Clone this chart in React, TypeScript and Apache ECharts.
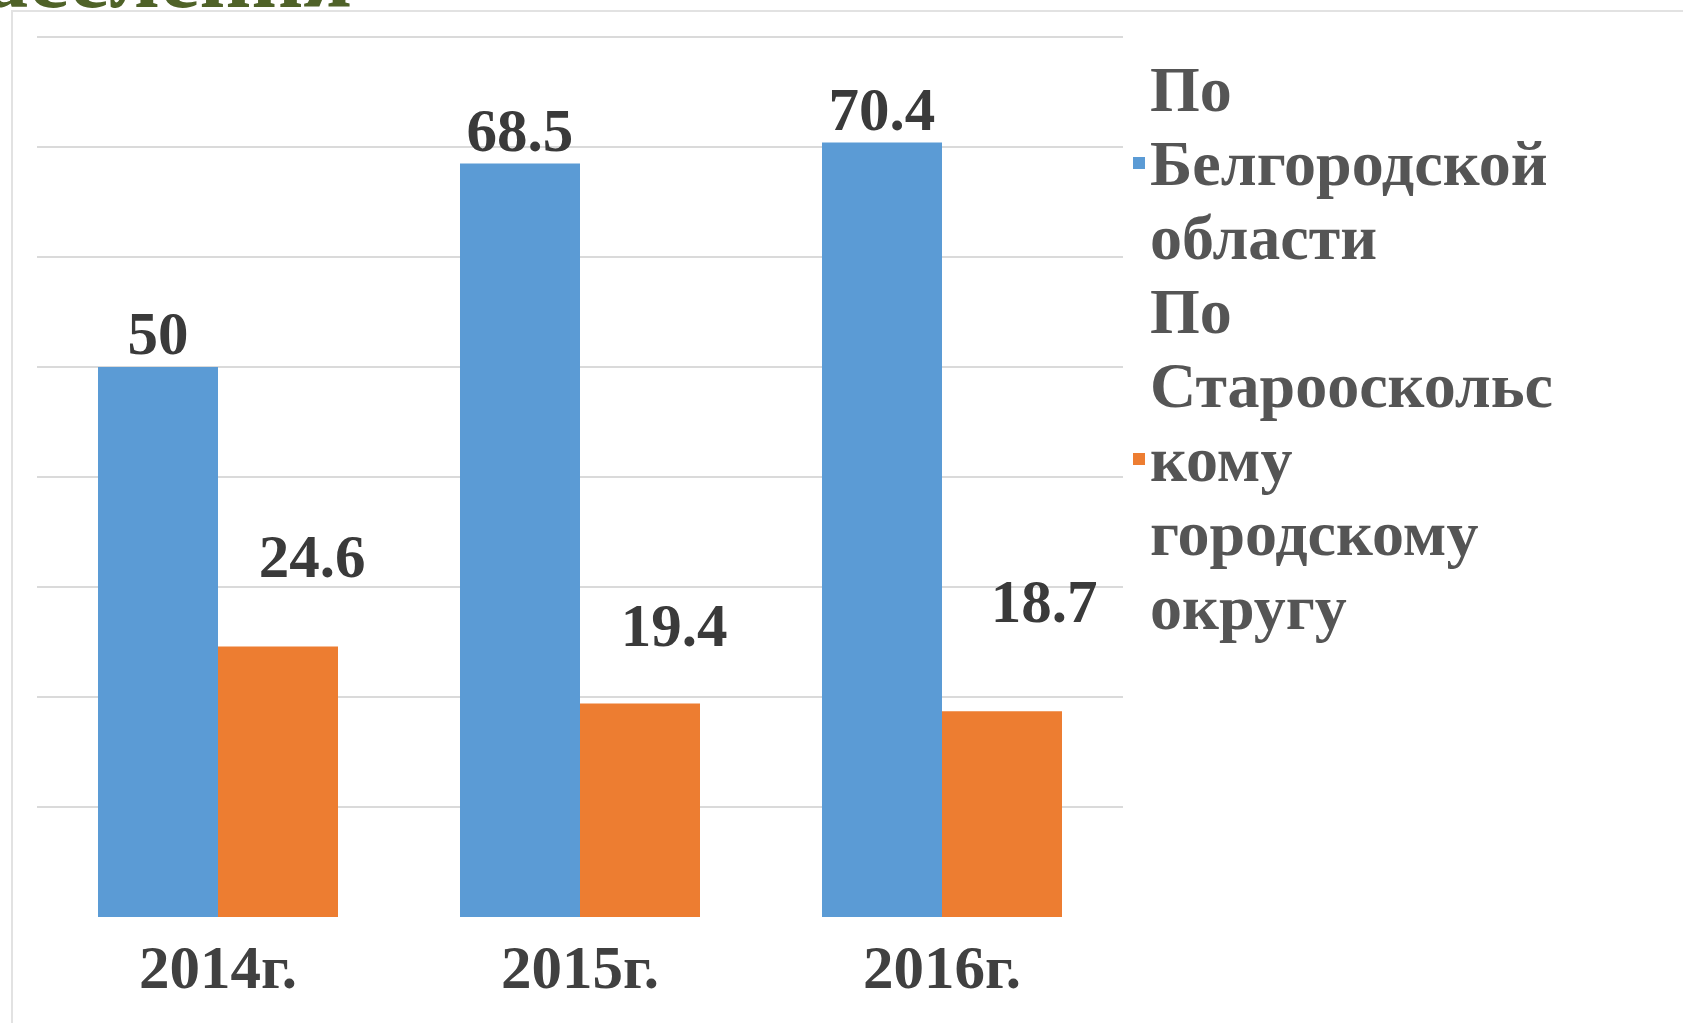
import React, { useEffect, useRef } from "react";
import * as echarts from "echarts";

const categories = ["2014г.", "2015г.", "2016г."];
const seriesNames = ["По Белгородской области", "По Старооскольскому городскому округу"];
const legendLabels = ["По\nБелгородской\nобласти", "По\nСтарооскольс\nкому\nгородскому\nокругу"];
const belgorodValues = [50, 68.5, 70.4];
const staroValues = [24.6, 19.4, 18.7];
const titleFragment = "населения";

const SERIF = "'Liberation Serif', 'Times New Roman', serif";

export default function App() {
  const ref = useRef<HTMLDivElement>(null);
  useEffect(() => {
    if (!ref.current) return;
    const chart = echarts.init(ref.current, null, { renderer: "svg" });
    const orangeOffsets = [[34, -57], [34, -46], [42, -77]];
    chart.setOption({
      animation: false,
      backgroundColor: "#ffffff",
      graphic: [
        {
          type: "rect",
          shape: { x: 12, y: 11, width: 1800, height: 1200 },
          style: { fill: "none", stroke: "#e2e2e2", lineWidth: 2 },
          silent: true,
          z: -10,
        },
        {
          type: "text",
          x: 352,
          y: -24,
          style: {
            text: titleFragment,
            fill: "#4f6228",
            font: `bold 90px ${SERIF}`,
            align: "right",
            verticalAlign: "middle",
          },
        },
      ],
      grid: { left: 37, right: 560, top: 37, bottom: 106, containLabel: false },
      legend: {
        orient: "vertical",
        left: 1133,
        top: 52,
        padding: 0,
        itemGap: 0,
        itemWidth: 12,
        itemHeight: 12,
        icon: "rect",
        data: seriesNames,
        formatter: (name: string) => legendLabels[seriesNames.indexOf(name)],
        textStyle: {
          fontFamily: SERIF,
          fontWeight: "bold",
          fontSize: 64,
          lineHeight: 74,
          color: "#555555",
        },
      },
      xAxis: {
        type: "category",
        data: categories,
        axisLine: { show: false },
        axisTick: { show: false },
        axisLabel: {
          fontFamily: SERIF,
          fontWeight: "bold",
          fontSize: 61,
          color: "#404040",
          margin: 20,
        },
      },
      yAxis: {
        type: "value",
        min: 0,
        max: 80,
        interval: 10,
        axisLabel: { show: false },
        axisLine: { show: false },
        axisTick: { show: false },
        splitLine: { show: true, showMinLine: false, lineStyle: { color: "#dadada", width: 2 } },
      },
      series: [
        {
          name: seriesNames[0],
          type: "bar",
          data: belgorodValues,
          barGap: "0%",
          barCategoryGap: "33.7%",
          itemStyle: { color: "#5b9bd5" },
          label: {
            show: true,
            position: "top",
            distance: 3,
            fontFamily: SERIF,
            fontWeight: "bold",
            fontSize: 61,
            color: "#3a3a3a",
          },
        },
        {
          name: seriesNames[1],
          type: "bar",
          data: staroValues.map((v, i) => ({
            value: v,
            label: { offset: orangeOffsets[i] },
          })),
          barGap: "0%",
          barCategoryGap: "33.7%",
          itemStyle: { color: "#ed7d31" },
          label: {
            show: true,
            position: "top",
            distance: 2,
            fontFamily: SERIF,
            fontWeight: "bold",
            fontSize: 61,
            color: "#3a3a3a",
          },
        },
      ],
    });
    return () => chart.dispose();
  }, []);
  return (
    <div
      ref={ref}
      style={{ position: "fixed", left: 0, top: 0, width: 1683, height: 1023 }}
    />
  );
}
